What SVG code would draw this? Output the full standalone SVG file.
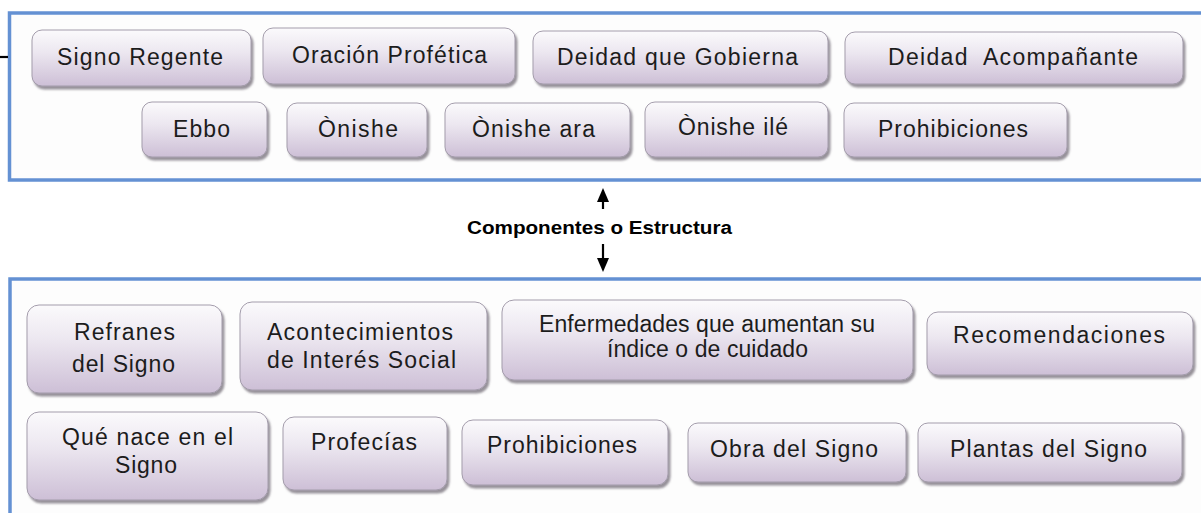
<svg xmlns="http://www.w3.org/2000/svg" width="1201" height="513" viewBox="0 0 1201 513">
<defs>
<linearGradient id="boxg" x1="0" y1="0" x2="0" y2="1">
<stop offset="0" stop-color="#fbfafc"/>
<stop offset="0.4" stop-color="#ece7f0"/>
<stop offset="1" stop-color="#cdbfd6"/>
</linearGradient>
<filter id="sh" x="-5%" y="-10%" width="115%" height="130%">
<feDropShadow dx="2" dy="3" stdDeviation="1.3" flood-color="#5e5764" flood-opacity="0.65"/>
</filter>
<marker id="ah" markerUnits="userSpaceOnUse" markerWidth="14" markerHeight="14" refX="0" refY="6" orient="auto" viewBox="0 0 14 12">
<path d="M0,0 L14,6 L0,12 Z" fill="#000"/>
</marker>
</defs>
<style>
.box{fill:url(#boxg);stroke:#a39cab;stroke-width:1;filter:url(#sh)}
.t{font-family:"Liberation Sans",Arial,sans-serif;font-size:23px;fill:#1c1c1c}
.panel{fill:#fdfdfd;stroke:#6491d3;stroke-width:3.5}
.lbl{font-family:"Liberation Sans",Arial,sans-serif;font-size:18px;font-weight:bold;fill:#000}
.conn{stroke:#000;stroke-width:2.2;fill:none}
</style>
<rect width="1201" height="513" fill="#ffffff"/>
<g id="panel-top"><rect class="panel" x="9.5" y="13" width="1205" height="167"/></g>
<g id="panel-bottom"><rect class="panel" x="10" y="279" width="1205" height="260"/></g>
<g id="connectors">
<line class="conn" x1="0" y1="57" x2="8" y2="57" stroke-width="3"/>
<line class="conn" x1="603" y1="209" x2="603" y2="202" marker-end="url(#ah)"/>
<line class="conn" x1="603" y1="244" x2="603" y2="258" marker-end="url(#ah)"/>
</g>
<g id="label"><text class="lbl" x="467" y="234" textLength="265" lengthAdjust="spacingAndGlyphs">Componentes o Estructura</text></g>
<g id="n-signo-regente"><rect class="box" x="32" y="30" width="219" height="56" rx="10"/><text class="t" x="57" y="65" textLength="166">Signo Regente</text></g>
<g id="n-oracion-profetica"><rect class="box" x="263" y="28" width="252" height="56" rx="10"/><text class="t" x="292" y="63" textLength="195">Oración Profética</text></g>
<g id="n-deidad-gobierna"><rect class="box" x="533" y="31" width="295" height="53" rx="10"/><text class="t" x="557" y="65" textLength="241">Deidad que Gobierna</text></g>
<g id="n-deidad-acompanante"><rect class="box" x="845" y="32" width="338" height="52" rx="10"/><text class="t" x="888" y="65" textLength="250" xml:space="preserve">Deidad  Acompañante</text></g>
<g id="n-ebbo"><rect class="box" x="142" y="102" width="125" height="55" rx="10"/><text class="t" x="173" y="137" textLength="57">Ebbo</text></g>
<g id="n-onishe"><rect class="box" x="287" y="103" width="140" height="54" rx="10"/><text class="t" x="318" y="137" textLength="80">Ònishe</text></g>
<g id="n-onishe-ara"><rect class="box" x="445" y="103" width="185" height="54" rx="10"/><text class="t" x="472" y="137" textLength="123">Ònishe ara</text></g>
<g id="n-onishe-ile"><rect class="box" x="645" y="102" width="183" height="55" rx="10"/><text class="t" x="678" y="135" textLength="110">Ònishe ilé</text></g>
<g id="n-prohibiciones-top"><rect class="box" x="844" y="103" width="223" height="54" rx="10"/><text class="t" x="878" y="137" textLength="150">Prohibiciones</text></g>
<g id="n-refranes"><rect class="box" x="27" y="305" width="195" height="88" rx="12"/><text class="t" x="74" y="340" textLength="101">Refranes</text><text class="t" x="72" y="372" textLength="103">del Signo</text></g>
<g id="n-acontecimientos"><rect class="box" x="240" y="302" width="247" height="88" rx="12"/><text class="t" x="267" y="340" textLength="186">Acontecimientos</text><text class="t" x="267" y="368" textLength="189">de Interés Social</text></g>
<g id="n-enfermedades"><rect class="box" x="502" y="300" width="411" height="80" rx="12"/><text class="t" x="539" y="332" textLength="336">Enfermedades que aumentan su</text><text class="t" x="607" y="357" textLength="201">índice o de cuidado</text></g>
<g id="n-recomendaciones"><rect class="box" x="927" y="312" width="266" height="63" rx="11"/><text class="t" x="953" y="343" textLength="212">Recomendaciones</text></g>
<g id="n-que-nace"><rect class="box" x="27" y="412" width="241" height="88" rx="12"/><text class="t" x="62" y="445" textLength="171">Qué nace en el</text><text class="t" x="115" y="473" textLength="62">Signo</text></g>
<g id="n-profecias"><rect class="box" x="283" y="417" width="164" height="73" rx="11"/><text class="t" x="311" y="450" textLength="106">Profecías</text></g>
<g id="n-prohibiciones-bottom"><rect class="box" x="462" y="420" width="206" height="65" rx="11"/><text class="t" x="487" y="453" textLength="150">Prohibiciones</text></g>
<g id="n-obra"><rect class="box" x="688" y="423" width="218" height="59" rx="10"/><text class="t" x="710" y="457" textLength="168">Obra del Signo</text></g>
<g id="n-plantas"><rect class="box" x="918" y="423" width="264" height="59" rx="10"/><text class="t" x="950" y="457" textLength="197">Plantas del Signo</text></g>
</svg>
